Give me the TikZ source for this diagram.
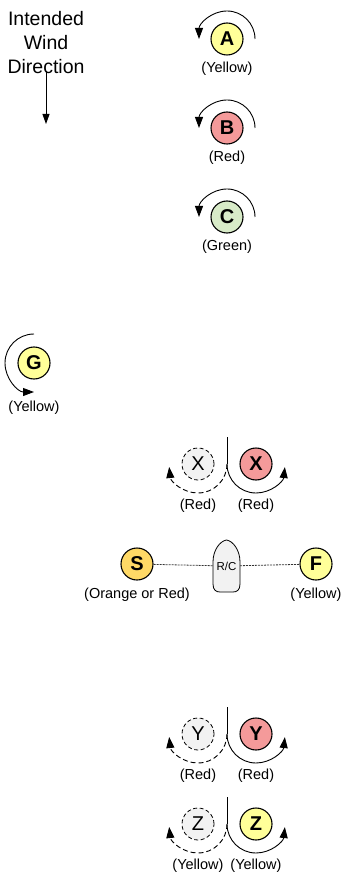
\documentclass[tikz,border=0pt]{standalone}
\usepackage{fontspec}
\setmainfont{Liberation Sans}
\usetikzlibrary{arrows.meta}
\definecolor{boatyellow}{HTML}{FFFF99}
\definecolor{boatred}{HTML}{F49A9A}
\definecolor{boatgreen}{HTML}{D8EBC8}
\definecolor{boatorange}{HTML}{FFD966}
\definecolor{ghostgray}{HTML}{F2F2F2}
\tikzset{
  disc/.style={circle, draw, line width=1.1pt, minimum size=32, inner sep=0pt,
    font=\fontsize{20}{20}\selectfont\bfseries},
  ghost/.style={circle, draw, dash pattern=on 4pt off 2.5pt, fill=ghostgray, line width=0.8pt,
    minimum size=32, inner sep=0pt, font=\fontsize{20}{20}\selectfont},
  tag/.style={inner sep=0pt, font=\fontsize{14.5}{14.5}\selectfont},
  rot/.style={line width=0.9pt, -{Triangle[length=11pt,width=8pt]}},
  rotghost/.style={rot, dash pattern=on 5pt off 3pt},
  tether/.style={line width=0.8pt, dash pattern=on 2pt off 1pt, black!80}
}
\begin{document}
\begin{tikzpicture}[x=1pt,y=-1pt]
  \useasboundingbox (0,0) rectangle (343,874);
  % wind
  \node[inner sep=0pt, align=center, font=\fontsize{19.5}{24}\selectfont] (wind) at (46,43)
    {Intended\\Wind\\Direction};
  \coordinate (windtip) at (46,124);
  \draw[line width=0.9pt, -{Triangle[length=10pt,width=7pt]}] ([yshift=3pt]wind.south) -- (windtip);
  % single boats turning
  \node[disc, fill=boatyellow] (A) at (227,39) {A};
  \node[tag] (Alab) at (227,69) {(Yellow)};
  \draw[rot] ([xshift=28pt]A.center) arc[start angle=0, end angle=-180, radius=28];
  \node[disc, fill=boatred] (B) at (227,128) {B};
  \node[tag] (Blab) at (227,158) {(Red)};
  \draw[rot] ([xshift=28pt]B.center) arc[start angle=0, end angle=-180, radius=28];
  \node[disc, fill=boatgreen] (C) at (227,217) {C};
  \node[tag] (Clab) at (227,247) {(Green)};
  \draw[rot] ([xshift=28pt]C.center) arc[start angle=0, end angle=-180, radius=28];
  \node[disc, fill=boatyellow] (G) at (34,363) {G};
  \node[tag] (Glab) at (34,408) {(Yellow)};
  \draw[rot] ([yshift=29pt]G.center) arc[start angle=-90, end angle=-270, radius=29];
  % X pair
  \node[ghost] (Xg) at (198,464) {X};
  \node[disc, fill=boatred] (X) at (256,464) {X};
  \node[tag] (Xglab) at (198,506) {(Red)};
  \node[tag] (Xlab) at (256,506) {(Red)};
  \draw (227,437) coordinate (Xtop) -- (227,464) coordinate (Xmid);
  \draw[rot] (Xmid) arc[start angle=180, end angle=6, radius=29];
  \draw[rotghost] (Xmid) arc[start angle=0, end angle=174, radius=29];
  % start line
  \draw[line width=0.8pt, fill=ghostgray] (213,562) .. controls (213,550) and (220,541) .. (226.5,540)
    .. controls (233,541) and (240,550) .. (240,562) -- (240,584)
    .. controls (240,590) and (237,592) .. (233,592) -- (220,592)
    .. controls (216,592) and (213,590) .. (213,584) -- cycle;
  \node[inner sep=0pt, minimum width=27, minimum height=52, font=\fontsize{11.5}{11.5}\selectfont]
    (rc) at (226.5,566) {R/C};
  \node[disc, fill=boatorange] (S) at (137,564) {S};
  \node[tag] (Slab) at (137,595) {(Orange or Red)};
  \node[disc, fill=boatyellow] (F) at (316,564) {F};
  \node[tag] (Flab) at (316,595) {(Yellow)};
  \draw[tether] (S) -- (rc);
  \draw[tether] (rc) -- (F);
  % Y pair
  \node[ghost] (Yg) at (198,734) {Y};
  \node[disc, fill=boatred] (Y) at (256,734) {Y};
  \node[tag] (Yglab) at (198,776) {(Red)};
  \node[tag] (Ylab) at (256,776) {(Red)};
  \draw (227,707) coordinate (Ytop) -- (227,734) coordinate (Ymid);
  \draw[rot] (Ymid) arc[start angle=180, end angle=6, radius=29];
  \draw[rotghost] (Ymid) arc[start angle=0, end angle=174, radius=29];
  % Z pair
  \node[ghost] (Zg) at (198,824) {Z};
  \node[disc, fill=boatyellow] (Z) at (256,824) {Z};
  \node[tag] (Zglab) at (198,866) {(Yellow)};
  \node[tag] (Zlab) at (256,866) {(Yellow)};
  \draw (227,797) coordinate (Ztop) -- (227,824) coordinate (Zmid);
  \draw[rot] (Zmid) arc[start angle=180, end angle=6, radius=29];
  \draw[rotghost] (Zmid) arc[start angle=0, end angle=174, radius=29];
\end{tikzpicture}
\end{document}
